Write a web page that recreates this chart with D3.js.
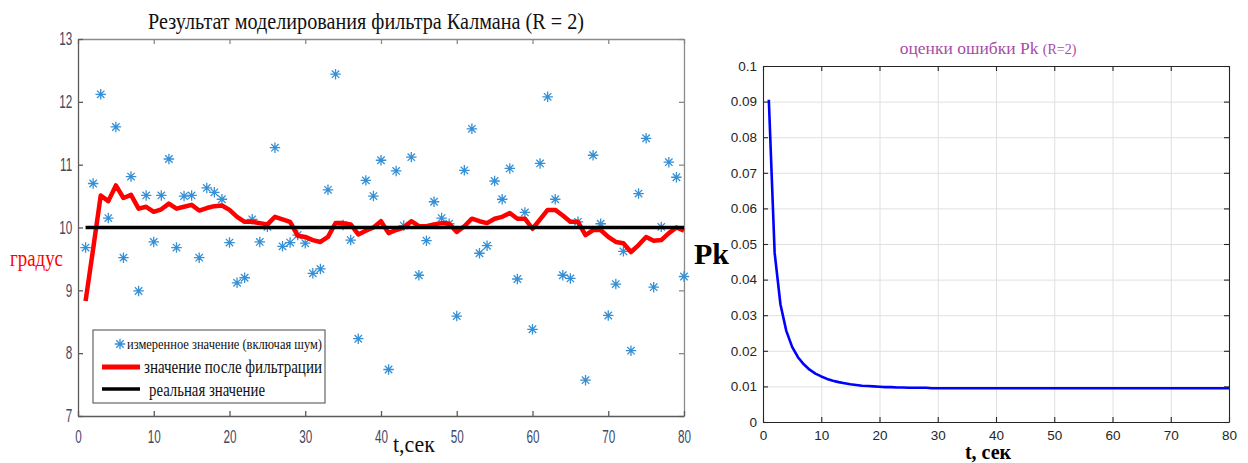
<!DOCTYPE html>
<html>
<head>
<meta charset="utf-8">
<script src="https://cdn.jsdelivr.net/npm/d3@7"></script>
<style>
  body { margin: 0; background: #fff; }
  svg { display: block; }
</style>
</head>
<body>
<svg id="chart" width="1248" height="463"></svg>
<script>
// измеренное значение (включая шум), t = 1..80
var measured = [9.68, 10.70, 12.12, 10.15, 11.60, 9.52, 10.81, 8.99, 10.51, 9.77,
                10.51, 11.09, 9.68, 10.50, 10.51, 9.52, 10.63, 10.56, 10.45, 9.76,
                9.12, 9.20, 10.13, 9.77, 10.01, 11.27, 9.70, 9.76, 9.88, 9.75,
                9.27, 9.34, 10.60, 12.44, 10.04, 9.80, 8.23, 10.75, 10.50, 11.07,
                7.74, 10.90, 10.03, 11.12, 9.24, 9.79, 10.41, 10.15, 10.06, 8.59,
                10.91, 11.57, 9.59, 9.71, 10.74, 10.45, 10.94, 9.18, 10.24, 8.38,
                11.02, 12.08, 10.45, 9.24, 9.19, 10.09, 7.57, 11.15, 10.06, 8.60,
                9.10, 9.62, 8.04, 10.54, 11.42, 9.05, 10.01, 11.04, 10.80, 9.22]

// значение после фильтрации
var filtered = [8.83, 9.66, 10.51, 10.42, 10.67, 10.47, 10.52, 10.30, 10.33, 10.25,
                10.29, 10.38, 10.30, 10.33, 10.36, 10.27, 10.31, 10.34, 10.35, 10.28,
                10.17, 10.09, 10.09, 10.07, 10.05, 10.17, 10.13, 10.09, 9.87, 9.85,
                9.80, 9.77, 9.85, 10.07, 10.07, 10.05, 9.89, 9.95, 10.00, 10.10,
                9.91, 9.96, 10.00, 10.10, 10.02, 10.02, 10.05, 10.07, 10.06, 9.93,
                10.02, 10.14, 10.10, 10.07, 10.14, 10.17, 10.23, 10.14, 10.14, 9.98,
                10.13, 10.28, 10.28, 10.19, 10.09, 10.09, 9.88, 9.96, 9.96, 9.85,
                9.77, 9.75, 9.61, 9.72, 9.85, 9.79, 9.80, 9.91, 10.00, 9.95]

// реальная значение
var realValue = [[1, 10], [80, 10]]

// оценки ошибки Pk
var pk = [0.0905, 0.0475, 0.0330, 0.0256, 0.0211, 0.0182, 0.0162, 0.0147, 0.0136, 0.0128,
          0.0121, 0.0116, 0.0112, 0.0109, 0.0106, 0.0104, 0.0102, 0.0101, 0.0100, 0.0099,
          0.0098, 0.0098, 0.0097, 0.0097, 0.0096, 0.0096, 0.0096, 0.0096, 0.0095, 0.0095,
          0.0095, 0.0095, 0.0095, 0.0095, 0.0095, 0.0095, 0.0095, 0.0095, 0.0095, 0.0095,
          0.0095, 0.0095, 0.0095, 0.0095, 0.0095, 0.0095, 0.0095, 0.0095, 0.0095, 0.0095,
          0.0095, 0.0095, 0.0095, 0.0095, 0.0095, 0.0095, 0.0095, 0.0095, 0.0095, 0.0095,
          0.0095, 0.0095, 0.0095, 0.0095, 0.0095, 0.0095, 0.0095, 0.0095, 0.0095, 0.0095,
          0.0095, 0.0095, 0.0095, 0.0095, 0.0095, 0.0095, 0.0095, 0.0095, 0.0095, 0.0095]

var xTicks = [0, 10, 20, 30, 40, 50, 60, 70, 80]
var yTicksLeft = [7, 8, 9, 10, 11, 12, 13]
var yTicksRight = [0, 0.01, 0.02, 0.03, 0.04, 0.05, 0.06, 0.07, 0.08, 0.09, 0.1]

var serif = "'Liberation Serif', 'DejaVu Serif', serif"
var sans = "'Liberation Sans', Arial, sans-serif"

var svg = d3.select("#chart")

// ---------- левый график ----------
var left = { x0: 78, x1: 684, top: 39, bottom: 416 }

var xScale = d3.scaleLinear().domain([0, 80]).range([left.x0, left.x1])
var yScale = d3.scaleLinear().domain([7, 13]).range([left.bottom, left.top])

var gl = svg.append("g")

// рамка: верх и право
gl.append("g")
  .attr("transform", `translate(0,${left.top})`)
  .call(d3.axisTop(xScale).tickValues(xTicks).tickSizeInner(-5).tickSizeOuter(0).tickFormat(""))
gl.append("g")
  .attr("transform", `translate(${left.x1},0)`)
  .call(d3.axisRight(yScale).tickValues(yTicksLeft).tickSizeInner(-5).tickSizeOuter(0).tickFormat(""))
gl.selectAll("g path, g line").attr("stroke", "#8a8a8a").attr("stroke-width", 1.3)

var xAxisL = gl.append("g")
  .attr("transform", `translate(0,${left.bottom})`)
  .call(d3.axisBottom(xScale).tickValues(xTicks).tickSizeInner(-5).tickSizeOuter(0).tickPadding(14))
var yAxisL = gl.append("g")
  .attr("transform", `translate(${left.x0},0)`)
  .call(d3.axisLeft(yScale).tickValues(yTicksLeft).tickSizeInner(-5).tickSizeOuter(0).tickPadding(9)
    .tickFormat(d3.format("d")))

;[xAxisL, yAxisL].forEach(function (a) {
  a.selectAll("path, line").attr("stroke", "#5a5a5a").attr("stroke-width", 1.3)
  a.selectAll("text")
    .attr("fill", "#3f4866")
    .style("font-family", sans)
    .style("font-size", "18px")
    .attr("transform", "scale(0.65,1)")
})

// звёздочки MATLAB '*'
var asterisk = {
  draw: function (ctx, size) {
    var r = Math.sqrt(size) / 2
    var d = r * 0.7071
    ctx.moveTo(-r, 0); ctx.lineTo(r, 0)
    ctx.moveTo(0, -r); ctx.lineTo(0, r)
    ctx.moveTo(-d, -d); ctx.lineTo(d, d)
    ctx.moveTo(-d, d); ctx.lineTo(d, -d)
  }
}
var starPath = d3.symbol().type(asterisk).size(110)

gl.append("g")
  .selectAll("path")
  .data(measured)
  .enter()
  .append("path")
  .attr("d", starPath)
  .attr("transform", (d, i) => `translate(${xScale(i + 1)},${yScale(d)})`)
  .attr("fill", "none")
  .attr("stroke", "#3590d6")
  .attr("stroke-width", 1.3)

var lineL = d3.line().x((d, i) => xScale(i + 1)).y(d => yScale(d))
gl.append("path")
  .datum(filtered)
  .attr("d", lineL)
  .attr("fill", "none")
  .attr("stroke", "#ff0000")
  .attr("stroke-width", 4.5)
  .attr("stroke-linejoin", "round")

gl.append("path")
  .datum(realValue)
  .attr("d", d3.line().x(d => xScale(d[0])).y(d => yScale(d[1])))
  .attr("fill", "none")
  .attr("stroke", "#000")
  .attr("stroke-width", 3.5)

// легенда
var lg = gl.append("g")
lg.append("rect")
  .attr("x", 93).attr("y", 330).attr("width", 232).attr("height", 73)
  .attr("fill", "#fff").attr("stroke", "#666").attr("stroke-width", 1.2)
lg.append("path")
  .attr("d", starPath)
  .attr("transform", "translate(120,344)")
  .attr("fill", "none").attr("stroke", "#3590d6").attr("stroke-width", 1.3)
lg.append("line").attr("x1", 102).attr("x2", 140).attr("y1", 367).attr("y2", 367)
  .attr("stroke", "#ff0000").attr("stroke-width", 5)
lg.append("line").attr("x1", 102).attr("x2", 140).attr("y1", 389).attr("y2", 389)
  .attr("stroke", "#000").attr("stroke-width", 3.5)
var legendText = [
  { text: "измеренное значение (включая шум)", x: 127, y: 349, w: 195, size: 15 },
  { text: "значение после фильтрации", x: 144, y: 373, w: 178, size: 19 },
  { text: "реальная значение", x: 149, y: 396, w: 116, size: 19 }
]
lg.selectAll("text.leg")
  .data(legendText)
  .enter()
  .append("text")
  .attr("x", d => d.x).attr("y", d => d.y)
  .attr("textLength", d => d.w).attr("lengthAdjust", "spacingAndGlyphs")
  .style("font-family", serif).style("font-size", d => d.size + "px")
  .attr("fill", "#111")
  .text(d => d.text)

// заголовок и подписи
gl.append("text")
  .attr("x", 148).attr("y", 29)
  .attr("textLength", 436).attr("lengthAdjust", "spacingAndGlyphs")
  .style("font-family", serif).style("font-size", "23px")
  .attr("fill", "#111")
  .text("Результат моделирования фильтра Калмана (R = 2)")

gl.append("text")
  .attr("x", 10).attr("y", 266)
  .attr("textLength", 53).attr("lengthAdjust", "spacingAndGlyphs")
  .style("font-family", serif).style("font-size", "24px")
  .attr("fill", "#ff0000")
  .text("градус")

gl.append("text")
  .attr("x", 393).attr("y", 452)
  .attr("textLength", 42).attr("lengthAdjust", "spacingAndGlyphs")
  .style("font-family", serif).style("font-size", "23px")
  .attr("fill", "#111")
  .text("t,сек")

// ---------- правый график ----------
var right = { x0: 763, x1: 1229, top: 66, bottom: 422 }

var xScale2 = d3.scaleLinear().domain([0, 80]).range([right.x0, right.x1])
var yScale2 = d3.scaleLinear().domain([0, 0.1]).range([right.bottom, right.top])

var gr = svg.append("g")

// сетка
gr.append("g")
  .attr("transform", `translate(0,${right.bottom})`)
  .call(d3.axisBottom(xScale2).tickValues(xTicks).tickSize(-(right.bottom - right.top)).tickFormat(""))
  .call(g => g.select(".domain").remove())
gr.append("g")
  .attr("transform", `translate(${right.x0},0)`)
  .call(d3.axisLeft(yScale2).tickValues(yTicksRight).tickSize(-(right.x1 - right.x0)).tickFormat(""))
  .call(g => g.select(".domain").remove())
gr.selectAll("line").attr("stroke", "#e0e0e0").attr("stroke-width", 1)

gr.append("path")
  .datum(pk)
  .attr("d", d3.line().x((d, i) => xScale2(i + 1)).y(d => yScale2(d)))
  .attr("fill", "none")
  .attr("stroke", "#0000ff")
  .attr("stroke-width", 2.6)
  .attr("stroke-linejoin", "round")

var boxAxes = gr.append("g")
boxAxes.append("g")
  .attr("transform", `translate(0,${right.top})`)
  .call(d3.axisTop(xScale2).tickValues(xTicks).tickSizeInner(-5).tickSizeOuter(0).tickFormat(""))
boxAxes.append("g")
  .attr("transform", `translate(${right.x1},0)`)
  .call(d3.axisRight(yScale2).tickValues(yTicksRight).tickSizeInner(-5).tickSizeOuter(0).tickFormat(""))
var xAxisR = boxAxes.append("g")
  .attr("transform", `translate(0,${right.bottom})`)
  .call(d3.axisBottom(xScale2).tickValues(xTicks).tickSizeInner(-5).tickSizeOuter(0).tickPadding(8))
var yAxisR = boxAxes.append("g")
  .attr("transform", `translate(${right.x0},0)`)
  .call(d3.axisLeft(yScale2).tickValues(yTicksRight).tickSizeInner(-5).tickSizeOuter(0).tickPadding(6)
    .tickFormat(d3.format(".2~f")))
boxAxes.selectAll("path, line").attr("stroke", "#262626").attr("stroke-width", 1.1)
boxAxes.selectAll("text")
  .attr("fill", "#262626")
  .style("font-family", sans)
  .style("font-size", "13.5px")

var title2 = gr.append("text")
  .attr("x", (right.x0 + right.x1) / 2 - 8).attr("y", 54)
  .attr("text-anchor", "middle")
  .style("font-family", serif)
  .attr("fill", "#a64ca6")
title2.append("tspan").style("font-size", "17.5px").text("оценки ошибки Pk ")
title2.append("tspan").style("font-size", "14px").text("(R=2)")

gr.append("text")
  .attr("x", 694).attr("y", 264)
  .style("font-family", serif).style("font-size", "30px").style("font-weight", "bold")
  .attr("fill", "#000")
  .text("Pk")

gr.append("text")
  .attr("x", (right.x0 + right.x1) / 2 - 8).attr("y", 459)
  .attr("text-anchor", "middle")
  .style("font-family", serif).style("font-size", "20px").style("font-weight", "bold")
  .attr("fill", "#000")
  .text("t, сек")
</script>
</body>
</html>
